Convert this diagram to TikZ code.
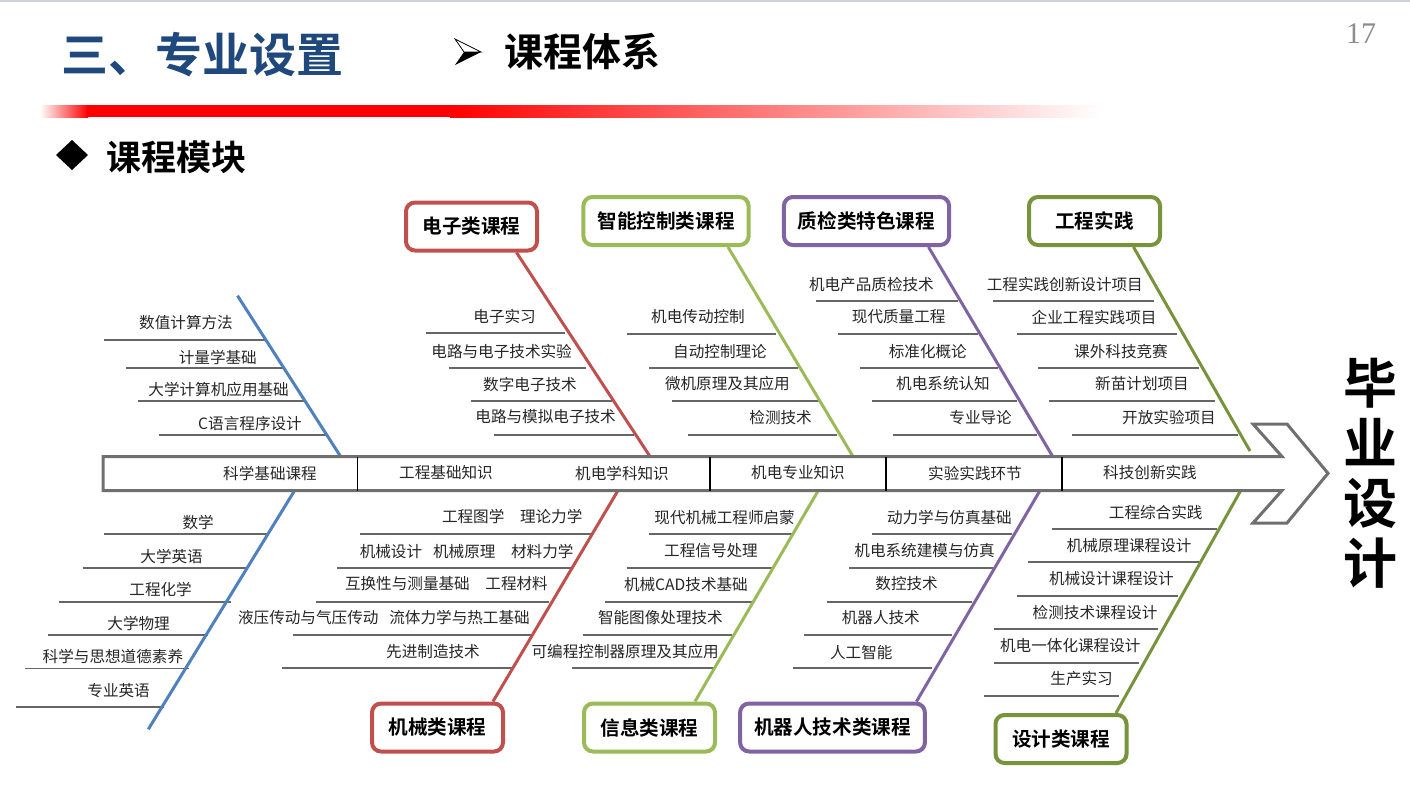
\documentclass[tikz,border=0pt]{standalone}
\usepackage{fontspec}
\setmainfont{Noto Sans CJK SC}[BoldFont=* Bold]
\newfontfamily\numfont{Liberation Serif}
\definecolor{titleblue}{HTML}{1F497D}
\definecolor{bblue}{HTML}{4F81BD}
\definecolor{bred}{HTML}{C0504D}
\definecolor{bgreen}{HTML}{9BBB59}
\definecolor{bpurple}{HTML}{8064A2}
\definecolor{bolive}{HTML}{77933C}
\definecolor{spinegray}{HTML}{6F6F6F}
\definecolor{ribgray}{HTML}{666666}
\definecolor{txtgray}{HTML}{262626}
\definecolor{numgray}{HTML}{8C8C8C}
\definecolor{topgray}{HTML}{CDD1D8}
\tikzset{
  modbox/.style={draw=#1, line width=4pt, rounded corners=9pt, fill=white,
    minimum width=131pt, minimum height=48pt, inner xsep=14pt,
    font=\bfseries\fontsize{19.6}{22}\selectfont},
  courseitem/.style={anchor=east, inner sep=0pt, text=txtgray,
    font=\fontsize{15.6}{18}\selectfont},
  spinetext/.style={inner sep=0pt, text=txtgray, font=\fontsize{15.6}{18}\selectfont},
  ribline/.style={draw=ribgray, line width=1.8pt},
  boneline/.style={draw=#1, line width=3pt},
  divline/.style={draw=black, line width=1.5pt}
}
\begin{document}
\begin{tikzpicture}[x=1pt,y=-1pt]
    \useasboundingbox (0,0) rectangle (1410,795);
    \fill[white] (0,0) rectangle (1410,795);
    \draw[topgray, line width=2pt] (0,1) -- (1410,1);

    % Header
    \node[anchor=west, inner sep=0pt, text=titleblue, font=\bfseries\fontsize{47}{50}\selectfont] (title) at (61,55) {三、专业设置};
    \filldraw[fill=white, draw=black, line width=0.8pt] (455,39) -- (481,52) -- (464,52) -- cycle;
    \fill[black] (464,52) -- (481,52) -- (455,65) -- cycle;
    \node[anchor=west, inner sep=0pt, font=\bfseries\fontsize{39}{42}\selectfont] (subtitle) at (504,52) {课程体系};
    \node[inner sep=0pt, text=numgray, font=\numfont\fontsize{30}{30}\selectfont] (pagenum) at (1361,34) {17};

    % Red bar
    \fill[left color=white, right color=red] (40,105) rectangle (88,117);
    \fill[red] (87,105) rectangle (451,117);
    \fill[left color=red, right color=white] (450,105) rectangle (1102,117);

    % Section title
    \fill[black] (56,155) -- (72,140) -- (88,155) -- (72,170) -- cycle;
    \node[anchor=west, inner sep=0pt, font=\bfseries\fontsize{35}{38}\selectfont] (modtitle) at (106,157) {课程模块};

    % Rules - upper side
    \draw[ribline] (104,340) -- (267,340);
    \draw[ribline] (126,368) -- (283,368);
    \draw[ribline] (137.5,401) -- (305,401);
    \draw[ribline] (159,435) -- (326,435);
    \draw[ribline] (426,333) -- (565,333);
    \draw[ribline] (448.7,368) -- (586,368);
    \draw[ribline] (471,401) -- (611.6,401);
    \draw[ribline] (494,435) -- (634,435);
    \draw[ribline] (626.7,334.3) -- (776,334.3);
    \draw[ribline] (649,368.3) -- (798,368.3);
    \draw[ribline] (671.7,401) -- (820,401);
    \draw[ribline] (687.7,435) -- (836.7,435);
    \draw[ribline] (816,301) -- (958,301);
    \draw[ribline] (838,334.3) -- (978,334.3);
    \draw[ribline] (860,368.3) -- (998,368.3);
    \draw[ribline] (871.7,401) -- (1016.7,401);
    \draw[ribline] (893,435) -- (1037,435);
    \draw[ribline] (993,301) -- (1154,301);
    \draw[ribline] (1016.7,334.3) -- (1176.7,334.3);
    \draw[ribline] (1038,368.3) -- (1199,368.3);
    \draw[ribline] (1049,401) -- (1215,401);
    \draw[ribline] (1071.7,435) -- (1237.7,435);

    % Rules - lower side
    \draw[ribline] (103.6,534) -- (268,534);
    \draw[ribline] (82.6,568) -- (248,568);
    \draw[ribline] (59,601.7) -- (230.8,601.7);
    \draw[ribline] (48,635) -- (207.6,635);
    \draw[ribline] (25.4,668.5) -- (188.8,668.5);
    \draw[ribline] (15.6,707.3) -- (164,707.3);
    \draw[ribline] (360,534) -- (591.5,534);
    \draw[ribline] (337,568.3) -- (572.8,568.3);
    \draw[ribline] (316,601.7) -- (549,601.7);
    \draw[ribline] (293,635) -- (531,635);
    \draw[ribline] (282,668) -- (513,668);
    \draw[ribline] (649,534.3) -- (793,534.3);
    \draw[ribline] (626.7,567.7) -- (771.7,567.7);
    \draw[ribline] (605,601.7) -- (751.7,601.7);
    \draw[ribline] (582.7,635) -- (731.7,635);
    \draw[ribline] (571.7,668.3) -- (715,668.3);
    \draw[ribline] (871.7,534.3) -- (1012,534.3);
    \draw[ribline] (849,567.7) -- (993,567.7);
    \draw[ribline] (826.7,601.7) -- (972,601.7);
    \draw[ribline] (804,635) -- (951.7,635);
    \draw[ribline] (793,668.3) -- (931.7,668.3);
    \draw[ribline] (1051.7,529.3) -- (1216.7,529.3);
    \draw[ribline] (1028,561.7) -- (1199,561.7);
    \draw[ribline] (1017,596) -- (1178,596);
    \draw[ribline] (994,629) -- (1158,629);
    \draw[ribline] (994,662.7) -- (1139,662.7);
    \draw[ribline] (984,696) -- (1119,696);

    % Category boxes
    \node[modbox=bred] (eleBox) at (471.5,226.5) {电子类课程};
    \node[modbox=bgreen] (ctrlBox) at (666,221) {智能控制类课程};
    \node[modbox=bpurple] (qualBox) at (866.5,221) {质检类特色课程};
    \node[modbox=bolive] (pracBox) at (1094.5,221) {工程实践};
    \node[modbox=bred] (mechBox) at (437.5,727.5) {机械类课程};
    \node[modbox=bgreen] (infoBox) at (649.5,727.5) {信息类课程};
    \node[modbox=bpurple] (robotBox) at (832.5,727.5) {机器人技术类课程};
    \node[modbox=bolive] (desBox) at (1061,739) {设计类课程};

    % Bone ends on the spine
    \coordinate (sciTop) at (237.5,295.7);
    \coordinate (sciUp) at (340.6,456.5);
    \coordinate (sciDn) at (294.6,490.5);
    \coordinate (sciEnd) at (148.3,729.3);
    \coordinate (eleUp) at (650,456.5);
    \coordinate (ctrlUp) at (853,456.5);
    \coordinate (qualUp) at (1052.7,456.5);
    \coordinate (pracUp) at (1250,451);
    \coordinate (mechDn) at (618,490.5);
    \coordinate (infoDn) at (818.3,490.5);
    \coordinate (robotDn) at (1040,490.5);
    \coordinate (desDn) at (1240.7,490.5);

    % Bones
    \draw[boneline=bblue] (sciTop) -- (sciUp);
    \draw[boneline=bblue] (sciDn) -- (sciEnd);
    \draw[boneline=bred] ([xshift=45pt]eleBox.south) -- (eleUp);
    \draw[boneline=bgreen] ([xshift=62pt]ctrlBox.south) -- (ctrlUp);
    \draw[boneline=bpurple] ([xshift=62pt]qualBox.south) -- (qualUp);
    \draw[boneline=bolive] ([xshift=39pt]pracBox.south) -- (pracUp);
    \draw[boneline=bred] ([xshift=55.5pt]mechBox.north) -- (mechDn);
    \draw[boneline=bgreen] ([xshift=45.5pt]infoBox.north) -- (infoDn);
    \draw[boneline=bpurple] ([xshift=84pt]robotBox.north) -- (robotDn);
    \draw[boneline=bolive] ([xshift=55pt]desBox.north) -- (desDn);

    % Spine with arrow head
    \draw[spinegray, fill=white, line width=3pt] (103,456.5) -- (1282,456.5) -- (1253,424) -- (1287,424)
        -- (1328,473.3) -- (1287,523) -- (1253,523) -- (1282,490.5) -- (103,490.5) -- cycle;
    \draw[divline] (357.7,456.5) -- (357.7,490.5);
    \draw[divline] (710,456.5) -- (710,490.5);
    \draw[divline] (886,456.5) -- (886,490.5);
    \draw[divline] (1062,456.5) -- (1062,490.5);
    \node[spinetext] (sSci) at (270,473) {科学基础课程};
    \node[spinetext] (sEng) at (446,473) {工程基础知识};
    \node[spinetext] (sMec) at (622,473) {机电学科知识};
    \node[spinetext] (sPro) at (798,473) {机电专业知识};
    \node[spinetext] (sExp) at (975,473) {实验实践环节};
    \node[spinetext] (sInn) at (1150,473) {科技创新实践};

    % Head
    \node[inner sep=0pt, align=center, font=\bfseries\fontsize{54}{60}\selectfont] (gradDesign) at (1370,473) {毕\\业\\设\\计};

    % Courses - science basics
    \node[courseitem] (sc1) at (233,323) {数值计算方法};
    \node[courseitem] (sc2) at (257,357.5) {计量学基础};
    \node[courseitem] (sc3) at (289,390) {大学计算机应用基础};
    \node[courseitem] (sc4) at (302,424) {C语言程序设计};
    \node[courseitem] (sl1) at (214,523) {数学};
    \node[courseitem] (sl2) at (203,556.7) {大学英语};
    \node[courseitem] (sl3) at (192,589) {工程化学};
    \node[courseitem] (sl4) at (170,623) {大学物理};
    \node[courseitem] (sl5) at (183.3,656.7) {科学与思想道德素养};
    \node[courseitem] (sl6) at (150,691) {专业英语};

    % Courses - electronics
    \node[courseitem] (el1) at (536,317) {电子实习};
    \node[courseitem] (el2) at (572,351.7) {电路与电子技术实验};
    \node[courseitem] (el3) at (577,385) {数字电子技术};
    \node[courseitem] (el4) at (616,416.7) {电路与模拟电子技术};

    % Courses - intelligent control
    \node[courseitem] (ct1) at (745,316.7) {机电传动控制};
    \node[courseitem] (ct2) at (767,351.7) {自动控制理论};
    \node[courseitem] (ct3) at (790,384) {微机原理及其应用};
    \node[courseitem] (ct4) at (812,417.7) {检测技术};

    % Courses - quality inspection
    \node[courseitem] (qa1) at (934,285) {机电产品质检技术};
    \node[courseitem] (qa2) at (945.7,317) {现代质量工程};
    \node[courseitem] (qa3) at (967,351.7) {标准化概论};
    \node[courseitem] (qa4) at (990,384) {机电系统认知};
    \node[courseitem] (qa5) at (1012,417.7) {专业导论};

    % Courses - engineering practice
    \node[courseitem] (pr1) at (1143,285) {工程实践创新设计项目};
    \node[courseitem] (pr2) at (1156.7,317) {企业工程实践项目};
    \node[courseitem] (pr3) at (1168,351.7) {课外科技竞赛};
    \node[courseitem] (pr4) at (1189,384) {新苗计划项目};
    \node[courseitem] (pr5) at (1216,417.7) {开放实验项目};

    % Courses - mechanics
    \node[courseitem] (me1) at (582.6,517) {工程图学\hspace{1em}理论力学};
    \node[courseitem] (me2) at (573.7,551.7) {机械设计\hspace{0.7em}机械原理\hspace{1em}材料力学};
    \node[courseitem] (me3) at (548,584) {互换性与测量基础\hspace{1em}工程材料};
    \node[courseitem] (me4) at (530,618) {液压传动与气压传动\hspace{0.7em}流体力学与热工基础};
    \node[courseitem] (me5) at (480,651.7) {先进制造技术};

    % Courses - information
    \node[courseitem] (in1) at (795,518) {现代机械工程师启蒙};
    \node[courseitem] (in2) at (758,551) {工程信号处理};
    \node[courseitem] (in3) at (748,584.3) {机械CAD技术基础};
    \node[courseitem] (in4) at (723,618) {智能图像处理技术};
    \node[courseitem] (in5) at (719,651.7) {可编程控制器原理及其应用};

    % Courses - robotics
    \node[courseitem] (ro1) at (1012,518) {动力学与仿真基础};
    \node[courseitem] (ro2) at (995,551) {机电系统建模与仿真};
    \node[courseitem] (ro3) at (938,584) {数控技术};
    \node[courseitem] (ro4) at (920,618) {机器人技术};
    \node[courseitem] (ro5) at (892.7,653) {人工智能};

    % Courses - design
    \node[courseitem] (de1) at (1202.7,512.7) {工程综合实践};
    \node[courseitem] (de2) at (1191.7,546) {机械原理课程设计};
    \node[courseitem] (de3) at (1174,579) {机械设计课程设计};
    \node[courseitem] (de4) at (1157.7,612.7) {检测技术课程设计};
    \node[courseitem] (de5) at (1140.7,645.7) {机电一体化课程设计};
    \node[courseitem] (de6) at (1113,679) {生产实习};
\end{tikzpicture}
\end{document}
